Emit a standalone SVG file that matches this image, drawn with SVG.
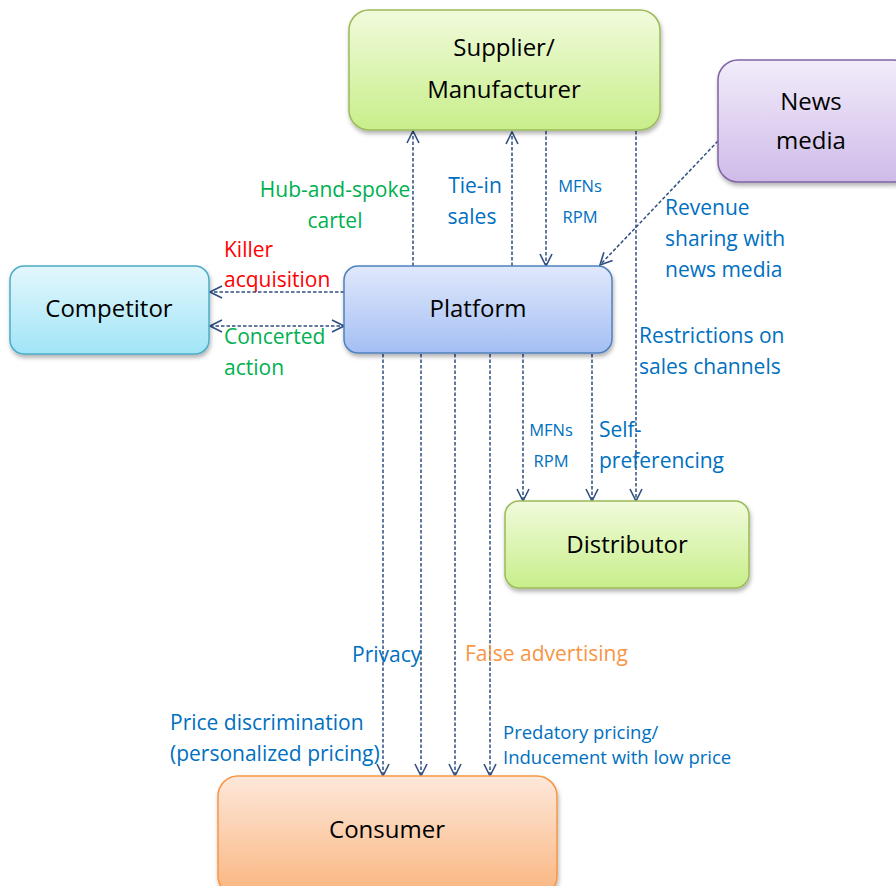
<svg xmlns="http://www.w3.org/2000/svg" width="896" height="886" viewBox="0 0 896 886">
<defs>
<linearGradient id="gGreen" x1="0" y1="0" x2="0" y2="1"><stop offset="0" stop-color="#f1fbdc"/><stop offset="1" stop-color="#c8ee8a"/></linearGradient>
<linearGradient id="gPurple" x1="0" y1="0" x2="0" y2="1"><stop offset="0" stop-color="#f2ecfa"/><stop offset="1" stop-color="#cfbbe9"/></linearGradient>
<linearGradient id="gCyan" x1="0" y1="0" x2="0" y2="1"><stop offset="0" stop-color="#e4f7fd"/><stop offset="1" stop-color="#a0e5f7"/></linearGradient>
<linearGradient id="gBlue" x1="0" y1="0" x2="0" y2="1"><stop offset="0" stop-color="#e0e8fb"/><stop offset="1" stop-color="#a4bff4"/></linearGradient>
<linearGradient id="gOrange" x1="0" y1="0" x2="0" y2="1"><stop offset="0" stop-color="#fde8da"/><stop offset="1" stop-color="#fab57f"/></linearGradient>
<filter id="sh" x="-10%" y="-10%" width="125%" height="130%"><feDropShadow dx="1" dy="3" stdDeviation="2" flood-color="#000" flood-opacity="0.3"/></filter>
<marker id="ah" viewBox="0 0 14 14" refX="13" refY="7" markerWidth="14" markerHeight="14" markerUnits="userSpaceOnUse" orient="auto-start-reverse"><path d="M1,1 L13,7 L1,13" fill="none" stroke="#2f4f80" stroke-width="1.6"/></marker>
<style>
.node{stroke-width:1.5;filter:url(#sh)}
.nt{font-family:"Open Sans","Noto Sans",sans-serif;font-size:24px;fill:#000;text-anchor:middle}
.lbl{font-family:"Open Sans","Noto Sans",sans-serif;font-size:21px}
.sm{font-size:16.5px}
.md{font-size:18.5px}
.blue{fill:#0070c0}
.green{fill:#00b050}
.red{fill:#ff0000}
.orange{fill:#f79646}
.c{fill:none;stroke:#2f4f80;stroke-width:1.5;stroke-dasharray:3.5,2}
</style>
</defs>
<rect width="896" height="886" fill="#ffffff"/>

<g id="connectors">
<line class="c" x1="413" y1="266" x2="413" y2="131" marker-end="url(#ah)"/>
<line class="c" x1="512" y1="266" x2="512" y2="132" marker-end="url(#ah)"/>
<line class="c" x1="546" y1="131" x2="546" y2="266" marker-end="url(#ah)"/>
<line class="c" x1="636" y1="131" x2="636" y2="501" marker-end="url(#ah)"/>
<line class="c" x1="718" y1="141" x2="600" y2="265" marker-end="url(#ah)"/>
<line class="c" x1="344" y1="292" x2="210" y2="292" marker-end="url(#ah)"/>
<line class="c" x1="210" y1="326" x2="344" y2="326" marker-start="url(#ah)" marker-end="url(#ah)"/>
<line class="c" x1="523" y1="354" x2="523" y2="501" marker-end="url(#ah)"/>
<line class="c" x1="592" y1="354" x2="592" y2="501" marker-end="url(#ah)"/>
<line class="c" x1="383" y1="354" x2="383" y2="776" marker-end="url(#ah)"/>
<line class="c" x1="421" y1="354" x2="421" y2="776" marker-end="url(#ah)"/>
<line class="c" x1="455" y1="354" x2="455" y2="776" marker-end="url(#ah)"/>
<line class="c" x1="490" y1="354" x2="490" y2="776" marker-end="url(#ah)"/>
</g>

<g id="labels">
<text class="lbl green" x="335" y="197" text-anchor="middle">Hub-and-spoke</text>
<text class="lbl green" x="335" y="228" text-anchor="middle">cartel</text>
<text class="lbl red" x="224" y="257">Killer</text>
<text class="lbl red" x="224" y="287">acquisition</text>
<text class="lbl green" x="224" y="344">Concerted</text>
<text class="lbl green" x="224" y="375">action</text>
<text class="lbl blue" x="475" y="193" text-anchor="middle">Tie-in</text>
<text class="lbl blue" x="472" y="224" text-anchor="middle">sales</text>
<text class="lbl blue sm" x="580" y="192" text-anchor="middle">MFNs</text>
<text class="lbl blue sm" x="580" y="223" text-anchor="middle">RPM</text>
<text class="lbl blue" x="665" y="215">Revenue</text>
<text class="lbl blue" x="665" y="246">sharing with</text>
<text class="lbl blue" x="665" y="277">news media</text>
<text class="lbl blue" x="639" y="343">Restrictions on</text>
<text class="lbl blue" x="639" y="374">sales channels</text>
<text class="lbl blue sm" x="551" y="436" text-anchor="middle">MFNs</text>
<text class="lbl blue sm" x="551" y="467" text-anchor="middle">RPM</text>
<text class="lbl blue" x="599" y="437">Self-</text>
<text class="lbl blue" x="599" y="468">preferencing</text>
<text class="lbl blue" x="352" y="662">Privacy</text>
<text class="lbl orange" x="465" y="661">False advertising</text>
<text class="lbl blue" x="170" y="730">Price discrimination</text>
<text class="lbl blue" x="170" y="761">(personalized pricing)</text>
<text class="lbl blue md" x="503" y="739">Predatory pricing/</text>
<text class="lbl blue md" x="503" y="764">Inducement with low price</text>
</g>

<g id="supplier">
<rect class="node" x="349" y="10" width="311" height="120" rx="20" fill="url(#gGreen)" stroke="#9bbb59"/>
<text class="nt" x="504" y="56">Supplier/</text>
<text class="nt" x="504" y="98">Manufacturer</text>
</g>
<g id="news-media">
<rect class="node" x="718" y="60" width="196" height="122" rx="20" fill="url(#gPurple)" stroke="#8064a2"/>
<text class="nt" x="811" y="110">News</text>
<text class="nt" x="811" y="149">media</text>
</g>
<g id="competitor">
<rect class="node" x="10" y="266" width="199" height="88" rx="14" fill="url(#gCyan)" stroke="#4bacc6"/>
<text class="nt" x="109" y="317">Competitor</text>
</g>
<g id="platform">
<rect class="node" x="344" y="266" width="268" height="87" rx="14" fill="url(#gBlue)" stroke="#4f81bd"/>
<text class="nt" x="478" y="317">Platform</text>
</g>
<g id="distributor">
<rect class="node" x="505" y="501" width="244" height="87" rx="14" fill="url(#gGreen)" stroke="#9bbb59"/>
<text class="nt" x="627" y="553">Distributor</text>
</g>
<g id="consumer">
<rect class="node" x="218" y="776" width="339" height="120" rx="20" fill="url(#gOrange)" stroke="#f79646"/>
<text class="nt" x="387" y="838">Consumer</text>
</g>
</svg>
